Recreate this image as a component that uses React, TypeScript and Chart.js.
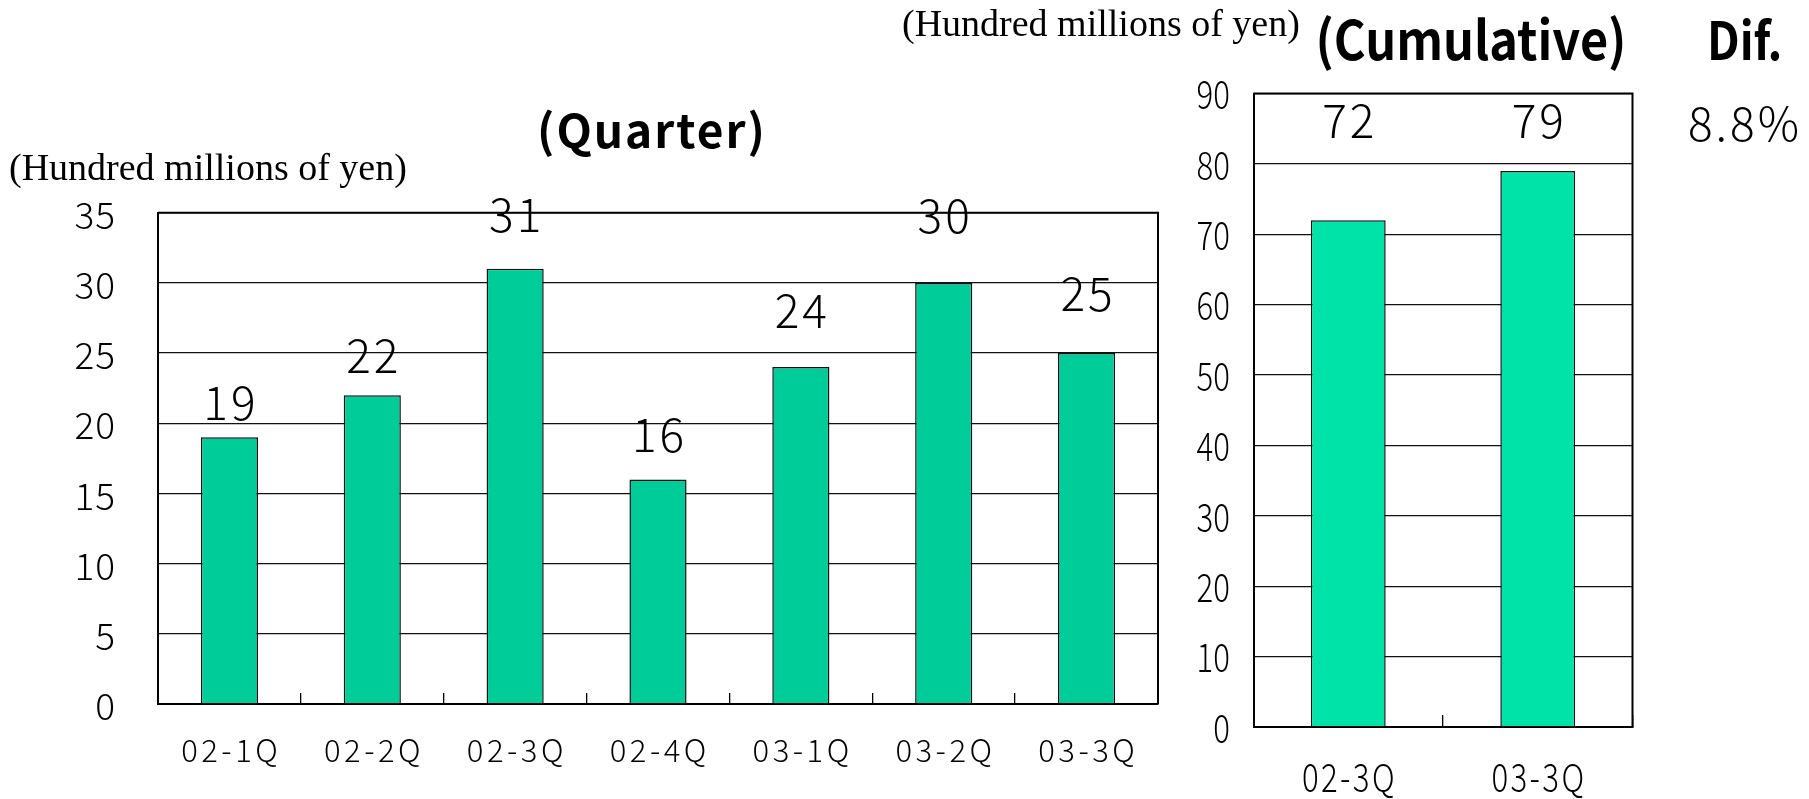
import React, { useEffect, useRef } from 'react';
import { Chart, registerables } from 'chart.js';

Chart.register(...registerables);

const W = 1809;
const H = 799;

// ---- data ----
const quarterCategories = ['02-1Q', '02-2Q', '02-3Q', '02-4Q', '03-1Q', '03-2Q', '03-3Q'];
const quarterValues = [19, 22, 31, 16, 24, 30, 25];
const quarterAxisMax = 35;
const quarterAxisStep = 5;

const cumulativeCategories = ['02-3Q', '03-3Q'];
const cumulativeValues = [72, 79];
const cumulativeAxisMax = 90;
const cumulativeAxisStep = 10;

const unitLabel = '(Hundred millions of yen)';
const quarterTitle = '(Quarter)';
const cumulativeTitle = '(Cumulative)';
const difTitle = 'Dif.';
const difValue = '8.8%';

// per-bar lift of the value labels above the bar top (px, style only)
const quarterLabelLift = [17, 22, 37, 27, 39, 50, 42];

const GOTHIC = '"Noto Sans CJK JP", "Noto Sans", sans-serif';
const SERIF = '"Liberation Serif", "Times New Roman", serif';

type TextStyle = { font: string; scaleX?: number; spacing?: number };

function drawText(
  ctx: CanvasRenderingContext2D,
  text: string,
  x: number,
  y: number,
  align: CanvasTextAlign,
  baseline: CanvasTextBaseline,
  style: TextStyle
) {
  const sp = style.spacing ?? 0;
  const sx = style.scaleX ?? 1;
  ctx.save();
  ctx.font = style.font;
  ctx.fillStyle = '#000';
  (ctx as any).letterSpacing = sp + 'px';
  ctx.textAlign = align;
  ctx.textBaseline = baseline;
  let dx = 0;
  if (align === 'center') dx = (sp / 2) * sx;
  if (align === 'right') dx = sp * sx;
  ctx.translate(x + dx, y);
  ctx.scale(sx, 1);
  ctx.fillText(text, 0, 0);
  ctx.restore();
}

function framePlugin(id: string) {
  return {
    id,
    afterDraw(chart: any) {
      const { ctx, chartArea } = chart;
      ctx.save();
      ctx.strokeStyle = '#000';
      ctx.lineWidth = 2;
      ctx.beginPath();
      ctx.moveTo(chartArea.left, chartArea.top);
      ctx.lineTo(chartArea.right, chartArea.top);
      ctx.lineTo(chartArea.right, chartArea.bottom);
      ctx.stroke();
      ctx.restore();
    },
  };
}

function ticksPlugin(
  id: string,
  yStyle: TextStyle,
  yGap: number,
  yShift: number,
  xStyle: TextStyle,
  xCenterY: number
) {
  return {
    id,
    afterDraw(chart: any) {
      const { ctx, chartArea } = chart;
      const ys = chart.scales.y;
      const xs = chart.scales.x;
      ys.ticks.forEach((t: any) => {
        const py = ys.getPixelForValue(t.value);
        drawText(ctx, String(t.value), chartArea.left - yGap, py + yShift, 'right', 'middle', yStyle);
      });
      const labels = chart.data.labels as string[];
      labels.forEach((lab, i) => {
        const px = xs.getPixelForValue(i);
        drawText(ctx, lab, px, xCenterY, 'center', 'middle', xStyle);
      });
    },
  };
}

function valueLabelsPlugin(id: string, style: TextStyle, yFor: (chart: any, bar: any, i: number) => number) {
  return {
    id,
    afterDatasetsDraw(chart: any) {
      const { ctx } = chart;
      const meta = chart.getDatasetMeta(0);
      const vals = chart.data.datasets[0].data as number[];
      meta.data.forEach((bar: any, i: number) => {
        drawText(ctx, String(vals[i]), bar.x, yFor(chart, bar, i), 'center', 'alphabetic', style);
      });
    },
  };
}

function makeOptions(
  area: { left: number; right: number; top: number; bottom: number },
  max: number,
  step: number,
  tickLen: number
): any {
  return {
    animation: false,
    responsive: false,
    maintainAspectRatio: false,
    devicePixelRatio: 1,
    events: [],
    layout: { padding: { left: 0, top: area.top, right: W - area.right, bottom: 0 } },
    plugins: { legend: { display: false }, tooltip: { enabled: false }, title: { display: false } },
    scales: {
      x: {
        grid: { drawOnChartArea: false, drawTicks: true, tickLength: tickLen, color: '#000', lineWidth: 1.3, offset: true },
        border: { display: true, color: '#000', width: 2 },
        ticks: { display: false },
        afterFit: (s: any) => {
          s.height = H - area.bottom;
        },
      },
      y: {
        min: 0,
        max,
        ticks: { stepSize: step, display: false },
        grid: { color: '#111', lineWidth: 1.3, drawTicks: false },
        border: { display: true, color: '#000', width: 2 },
        afterFit: (s: any) => {
          s.width = area.left;
        },
      },
    },
  };
}

function Txt(props: {
  x: number;
  y: number;
  text: string;
  font: string;
  size: number;
  weight?: number | string;
  spacing?: number;
  scaleX?: number;
  anchor?: 'left' | 'center';
}) {
  const { x, y, text, font, size, weight = 400, spacing = 0, scaleX = 1, anchor = 'left' } = props;
  const tx = anchor === 'center' ? '-50%' : '0';
  return (
    <div
      style={{
        position: 'absolute',
        left: x,
        top: y,
        fontFamily: font,
        fontSize: size,
        fontWeight: weight as any,
        letterSpacing: spacing,
        lineHeight: 1,
        whiteSpace: 'nowrap',
        color: '#000',
        transform: `translate(${tx}, -50%) scaleX(${scaleX})`,
        transformOrigin: anchor === 'center' ? '50% 50%' : '0 50%',
      }}
    >
      {text}
    </div>
  );
}

export default function App() {
  const leftRef = useRef<HTMLCanvasElement | null>(null);
  const rightRef = useRef<HTMLCanvasElement | null>(null);

  useEffect(() => {
    document.body.style.margin = '0';
    const leftArea = { left: 158, right: 1158, top: 212.7, bottom: 704 };
    const rightArea = { left: 1253.5, right: 1632.5, top: 93.5, bottom: 727 };

    const left = new Chart(leftRef.current as HTMLCanvasElement, {
      type: 'bar',
      data: {
        labels: quarterCategories,
        datasets: [
          {
            data: quarterValues,
            backgroundColor: '#00CC99',
            borderColor: '#111',
            borderWidth: 1.5,
            categoryPercentage: 1,
            barPercentage: 0.4,
          },
        ],
      },
      options: makeOptions(leftArea, quarterAxisMax, quarterAxisStep, -11),
      plugins: [
        framePlugin('frameL'),
        ticksPlugin(
          'ticksL',
          { font: `300 37px ${GOTHIC}`, spacing: 1 },
          43,
          2,
          { font: `300 31px ${GOTHIC}`, spacing: 3.5 },
          750
        ),
        valueLabelsPlugin('valsL', { font: `300 46px ${GOTHIC}`, spacing: 3 }, (_c, bar, i) => bar.y - quarterLabelLift[i]),
      ],
    } as any);

    const right = new Chart(rightRef.current as HTMLCanvasElement, {
      type: 'bar',
      data: {
        labels: cumulativeCategories,
        datasets: [
          {
            data: cumulativeValues,
            backgroundColor: '#00E3A8',
            borderColor: '#111',
            borderWidth: 1.5,
            categoryPercentage: 1,
            barPercentage: 0.395,
          },
        ],
      },
      options: makeOptions(rightArea, cumulativeAxisMax, cumulativeAxisStep, -12),
      plugins: [
        framePlugin('frameR'),
        ticksPlugin(
          'ticksR',
          { font: `300 39px ${GOTHIC}`, scaleX: 0.8 },
          23.5,
          1,
          { font: `300 39px ${GOTHIC}`, scaleX: 0.8, spacing: 3 },
          777
        ),
        valueLabelsPlugin('valsR', { font: `300 46px ${GOTHIC}`, spacing: 3 }, (c) => c.chartArea.top + 44.5),
      ],
    } as any);

    return () => {
      left.destroy();
      right.destroy();
    };
  }, []);

  return (
    <div
      style={{
        position: 'fixed',
        left: 0,
        top: 0,
        width: W,
        height: H,
        background: '#fff',
        overflow: 'hidden',
      }}
    >
      <canvas ref={leftRef} width={W} height={H} style={{ position: 'absolute', left: 0, top: 0 }} />
      <canvas ref={rightRef} width={W} height={H} style={{ position: 'absolute', left: 0, top: 0 }} />
      <Txt x={9} y={167} text={unitLabel} font={SERIF} size={38} />
      <Txt x={902} y={23} text={unitLabel} font={SERIF} size={38} />
      <Txt x={652} y={128} text={quarterTitle} font={GOTHIC} size={46} weight={600} spacing={2} anchor="center" />
      <Txt x={1471} y={37} text={cumulativeTitle} font={GOTHIC} size={54} weight={700} scaleX={0.9} anchor="center" />
      <Txt x={1707} y={38} text={difTitle} font={GOTHIC} size={52} weight={700} scaleX={0.88} />
      <Txt x={1688} y={121} text={difValue} font={GOTHIC} size={46} weight={300} spacing={3} />
    </div>
  );
}
